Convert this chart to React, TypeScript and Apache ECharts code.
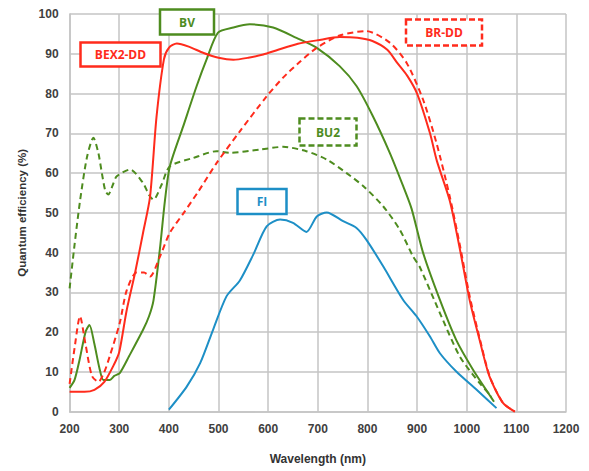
import React, { useEffect, useRef } from "react";
import * as echarts from "echarts";

const xTicks = [200, 300, 400, 500, 600, 700, 800, 900, 1000, 1100, 1200];
const yTicks = [0, 10, 20, 30, 40, 50, 60, 70, 80, 90, 100];

const bex2ddData: [number, number][] = [
  [200, 5], [230, 5], [250, 5.5], [270, 7.5], [290, 12], [300, 15], [315, 25.5], [332, 35],
  [348, 45], [362, 54], [375, 74], [390, 88.6], [400, 91.5], [416, 92.6], [440, 91.8],
  [470, 90.2], [500, 89], [530, 88.5], [560, 89], [590, 89.8], [620, 91], [660, 92.5],
  [700, 93.4], [744, 94.2], [780, 94], [810, 93.2], [840, 91], [860, 87.7], [880, 84.5],
  [900, 80], [926, 70], [940, 63], [966, 53], [986, 41], [1006, 28], [1026, 18],
  [1046, 8.8], [1073, 2.2], [1097, 0],
];

const brddData: [number, number][] = [
  [200, 7], [210, 16], [221, 24], [232, 17], [245, 9], [258, 7.5], [270, 10], [281, 14],
  [301, 22.3], [315, 30.5], [335, 35], [350, 35], [362, 34], [382, 39], [402, 45],
  [430, 50], [460, 55.5], [496, 62.5], [543, 70.5], [597, 79.3], [630, 84], [664, 88],
  [698, 91.5], [744, 94.6], [798, 95.7], [845, 92.8],
  [879, 87.7], [912, 78.5], [939, 67.6], [966, 54], [986, 42], [1006, 29], [1026, 18.5],
  [1046, 9], [1073, 2.2], [1097, 0],
];

const bvData: [number, number][] = [
  [200, 6], [210, 8], [220, 13], [232, 20], [240, 21.8], [250, 17], [260, 11], [268, 8],
  [281, 8], [290, 9], [301, 9.7], [320, 14], [348, 20.6], [360, 24], [369, 28], [382, 41],
  [392, 53], [402, 61.7], [429, 71.8], [456, 81.9], [476, 88.6], [499, 95.3], [530, 96.6],
  [563, 97.4], [610, 96.6], [657, 94], [698, 91.5], [744, 86.9], [778, 81.9], [811, 74.3],
  [845, 65.1], [872, 56.7], [889, 51], [912, 40], [946, 28.1], [979, 18], [1013, 10.5],
  [1046, 4.2], [1055, 2.5],
];

const bu2Data: [number, number][] = [
  [200, 31], [210, 42], [221, 53], [235, 64], [248, 68.9], [258, 65], [265, 60],
  [272, 55.5], [278, 54.6], [287, 57], [295, 59.2], [322, 60.9], [348, 57.5], [360, 54.5],
  [369, 53.3], [385, 57], [402, 61.7], [449, 63.8], [496, 65.5], [523, 65.1], [583, 65.9],
  [630, 66.6], [677, 65.5], [718, 63.4], [758, 60], [792, 56.7], [832, 51.6], [865, 45.8],
  [892, 39], [905, 36.5], [946, 24.8], [986, 13.9], [1026, 7.2], [1050, 3.8],
];

const fiData: [number, number][] = [
  [400, 0.5], [436, 6.3], [463, 12.2], [489, 20.6], [516, 29], [543, 33], [570, 39.5],
  [597, 46.6], [624, 48.3], [650, 47.5], [677, 45.2], [698, 49.1], [718, 50.1], [751, 47.9],
  [778, 46.2], [798, 43.2], [832, 36.5], [872, 28.1], [899, 24], [926, 18.9], [946, 14.7],
  [979, 10.1], [1020, 5.5], [1060, 0.9],
];

const RED = "#ff2b1c";
const GREEN = "#4e8c1f";
const BLUE = "#1d8fc6";
const GRIDC = "#c4c4c4";
const FONT = "Liberation Sans";

function labelBox(text: string, cx: number, cy: number, w: number, h: number, color: string, dashed: boolean) {
  return {
    type: "group",
    children: [
      {
        type: "rect",
        shape: { x: cx - w / 2, y: cy - h / 2, width: w, height: h },
        style: { fill: "#fff", stroke: color, lineWidth: 2.5, lineDash: dashed ? [6, 3] : null },
        z: 100,
      },
      {
        type: "text",
        x: cx,
        y: cy,
        style: {
          text,
          fill: color,
          font: "bold 12px 'Open Sans', sans-serif",
          textAlign: "center",
          textVerticalAlign: "middle",
        },
        z: 101,
      },
    ],
  };
}

export default function App() {
  const ref = useRef<HTMLDivElement>(null);
  useEffect(() => {
    document.body.style.margin = "0";
    if (!ref.current) return;
    const chart = echarts.init(ref.current, null, { renderer: "svg" });
    const line = (name: string, data: [number, number][], color: string, dashed: boolean) => ({
      name,
      type: "line",
      data,
      smooth: 0.25,
      showSymbol: false,
      symbol: "none",
      lineStyle: { color, width: 2, type: dashed ? [6, 4] : "solid" },
    });
    const axisLabel = {
      margin: 11,
      fontWeight: "bold",
      fontSize: 12,
      color: "#404040",
      fontFamily: FONT,
      formatter: (v: number) => String(v),
    };
    chart.setOption({
      animation: false,
      grid: { left: 69.6, right: 23, top: 14, bottom: 59.3 },
      xAxis: {
        type: "value",
        min: xTicks[0],
        max: xTicks[xTicks.length - 1],
        interval: 100,
        name: "Wavelength (nm)",
        nameLocation: "middle",
        nameGap: 41,
        nameTextStyle: { fontWeight: "bold", fontSize: 12, color: "#333", fontFamily: FONT },
        axisLine: { lineStyle: { color: GRIDC, width: 1.5 } },
        axisTick: { show: false },
        axisLabel,
        splitLine: { show: true, lineStyle: { color: GRIDC, width: 1.5 } },
      },
      yAxis: {
        type: "value",
        min: yTicks[0],
        max: yTicks[yTicks.length - 1],
        interval: 10,
        name: "Quantum efficiency (%)",
        nameLocation: "middle",
        nameGap: 42,
        nameTextStyle: { fontWeight: "bold", fontSize: 11.5, color: "#333", fontFamily: FONT },
        axisLine: { show: true, lineStyle: { color: GRIDC, width: 1.5 } },
        axisTick: { show: false },
        axisLabel,
        splitLine: { show: true, lineStyle: { color: GRIDC, width: 1.5 } },
      },
      series: [
        line("FI", fiData, BLUE, false),
        line("BU2", bu2Data, GREEN, true),
        line("BV", bvData, GREEN, false),
        line("BR-DD", brddData, RED, true),
        line("BEX2-DD", bex2ddData, RED, false),
      ],
      graphic: [
        labelBox("BV", 187, 22, 54, 25, GREEN, false),
        labelBox("BEX2-DD", 120.5, 54.5, 80, 24, RED, false),
        labelBox("BR-DD", 444, 32.5, 76, 26, RED, true),
        labelBox("BU2", 328, 132, 57, 27, GREEN, true),
        labelBox("FI", 262, 201.5, 49, 25, BLUE, false),
      ],
    });
    return () => chart.dispose();
  }, []);
  return <div ref={ref} style={{ width: 589, height: 471 }} />;
}
